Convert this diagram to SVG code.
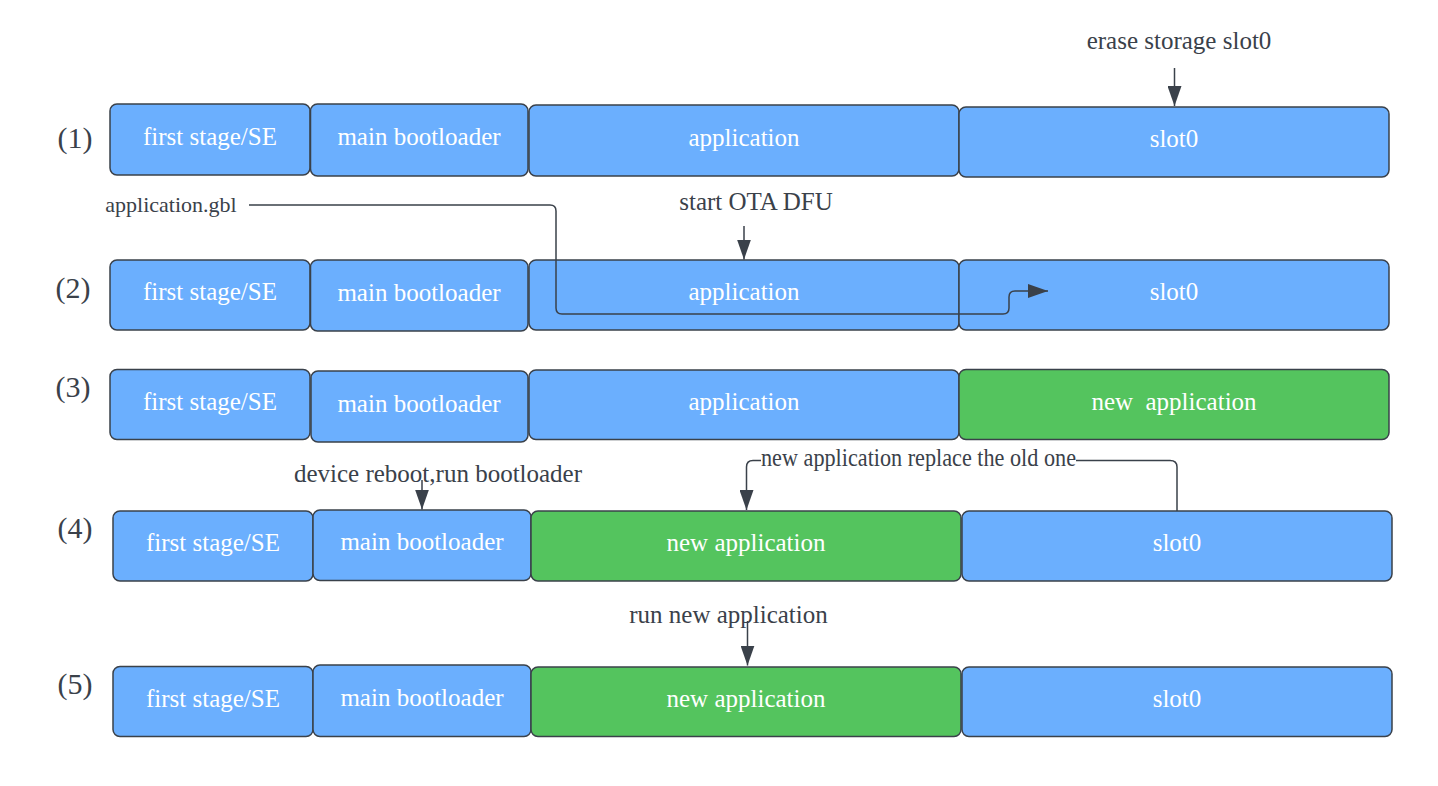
<svg xmlns="http://www.w3.org/2000/svg" width="1438" height="786" viewBox="0 0 1438 786">
<defs>
<style>
.b{fill:#6BAFFE;stroke:#3A414A;stroke-width:1.5}
.g{fill:#54C45E;stroke:#3A414A;stroke-width:1.5}
.t{font-family:"Liberation Serif","Times New Roman",serif;font-size:25px;fill:#FFFFFF;text-anchor:middle}
.a{font-family:"Liberation Serif","Times New Roman",serif;font-size:25px;fill:#3A414A;text-anchor:middle}
.n{font-family:"Liberation Serif","Times New Roman",serif;font-size:30px;fill:#3A414A;text-anchor:middle}
.c{fill:none;stroke:#3A414A;stroke-width:1.5}
</style>
<marker id="ah" markerWidth="20" markerHeight="14" refX="20" refY="7" orient="auto" markerUnits="userSpaceOnUse">
<path d="M0,0 L20,7 L0,14 Z" fill="#3A414A"/>
</marker>
</defs>
<rect width="1438" height="786" fill="#FFFFFF"/>

<g id="labels">
<text class="n" x="75" y="148">(1)</text>
<text class="n" x="73" y="298">(2)</text>
<text class="n" x="73" y="397">(3)</text>
<text class="n" x="75" y="538">(4)</text>
<text class="n" x="75" y="694">(5)</text>
</g>

<g id="row1">
<g id="r1-fs"><rect class="b" x="110" y="104" width="200" height="71" rx="7"/><text class="t" x="210" y="145">first stage/SE</text></g>
<g id="r1-mb"><rect class="b" x="310.5" y="104" width="217.5" height="72" rx="7"/><text class="t" x="419" y="145">main bootloader</text></g>
<g id="r1-app"><rect class="b" x="529" y="105" width="430" height="71" rx="7"/><text class="t" x="744" y="146">application</text></g>
<g id="r1-slot"><rect class="b" x="959" y="107" width="430" height="70" rx="7"/><text class="t" x="1174" y="147">slot0</text></g>
</g>

<g id="row2">
<g id="r2-fs"><rect class="b" x="110" y="260" width="200" height="70" rx="7"/><text class="t" x="210" y="300">first stage/SE</text></g>
<g id="r2-mb"><rect class="b" x="310.5" y="260" width="217.5" height="71" rx="7"/><text class="t" x="419" y="301">main bootloader</text></g>
<g id="r2-app"><rect class="b" x="529" y="260" width="430" height="70" rx="7"/><text class="t" x="744" y="300">application</text></g>
<g id="r2-slot"><rect class="b" x="959" y="260" width="430" height="70" rx="7"/><text class="t" x="1174" y="300">slot0</text></g>
</g>

<g id="row3">
<g id="r3-fs"><rect class="b" x="110" y="369.5" width="200" height="70" rx="7"/><text class="t" x="210" y="410">first stage/SE</text></g>
<g id="r3-mb"><rect class="b" x="311" y="371" width="217" height="71" rx="7"/><text class="t" x="419" y="412">main bootloader</text></g>
<g id="r3-app"><rect class="b" x="529" y="370" width="430" height="69.5" rx="7"/><text class="t" x="744" y="410">application</text></g>
<g id="r3-new"><rect class="g" x="959" y="369.5" width="430" height="70" rx="7"/><text class="t" x="1174" y="410" xml:space="preserve">new  application</text></g>
</g>

<g id="row4">
<g id="r4-fs"><rect class="b" x="113" y="511" width="200" height="70" rx="7"/><text class="t" x="213" y="551">first stage/SE</text></g>
<g id="r4-mb"><rect class="b" x="313" y="510" width="218" height="70.5" rx="7"/><text class="t" x="422" y="550">main bootloader</text></g>
<g id="r4-app"><rect class="g" x="531" y="511" width="430" height="70" rx="7"/><text class="t" x="746" y="551">new application</text></g>
<g id="r4-slot"><rect class="b" x="962" y="511" width="430" height="70" rx="7"/><text class="t" x="1177" y="551">slot0</text></g>
</g>

<g id="row5">
<g id="r5-fs"><rect class="b" x="113" y="666.5" width="200" height="70" rx="7"/><text class="t" x="213" y="707">first stage/SE</text></g>
<g id="r5-mb"><rect class="b" x="313" y="665" width="218" height="71.5" rx="7"/><text class="t" x="422" y="706">main bootloader</text></g>
<g id="r5-app"><rect class="g" x="531" y="667" width="430" height="69.5" rx="7"/><text class="t" x="746" y="707">new application</text></g>
<g id="r5-slot"><rect class="b" x="962" y="667" width="430" height="69.5" rx="7"/><text class="t" x="1177" y="707">slot0</text></g>
</g>

<g id="connectors">
<path class="c" d="M1174.5,68 V106" marker-end="url(#ah)"/>
<path class="c" d="M744,226 V259.5" marker-end="url(#ah)"/>
<path class="c" d="M249,205 H550 Q556,205 556,211 V308 Q556,314 562,314 H1003 Q1009,314 1009,308 V297 Q1009,291 1015,291 H1048" marker-end="url(#ah)"/>
<path class="c" d="M422,480 V509.5" marker-end="url(#ah)"/>
<path class="c" d="M1177,511 V467 Q1177,460.5 1170,460.5 H1076 M761,460.5 H753 Q746.5,460.5 746.5,467 V510" marker-end="url(#ah)"/>
<path class="c" d="M747.5,621 V665.5" marker-end="url(#ah)"/>
</g>

<g id="annotations">
<text class="a" x="1179" y="49">erase storage slot0</text>
<text class="a" x="756" y="210">start OTA DFU</text>
<text class="a" x="171" y="212" style="font-size:22px">application.gbl</text>
<text class="a" x="438" y="482">device reboot,run bootloader</text>
<text class="a" x="918.5" y="466" textLength="315" lengthAdjust="spacingAndGlyphs">new application replace the old one</text>
<text class="a" x="728.5" y="623">run new application</text>
</g>
</svg>
